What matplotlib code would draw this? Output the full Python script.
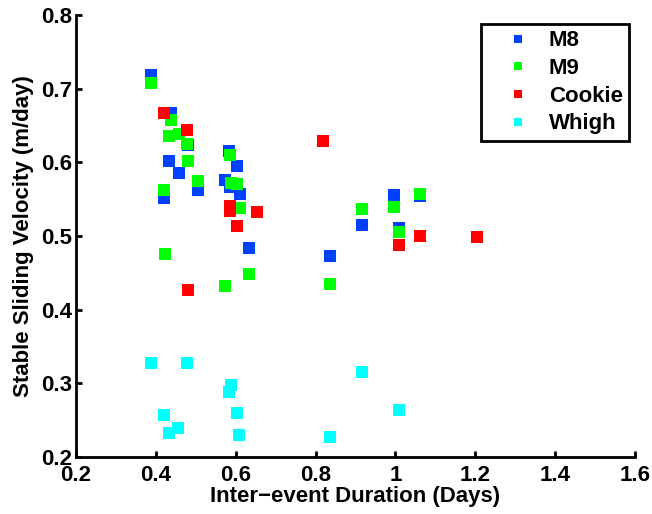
import matplotlib

matplotlib.use("Agg")
import matplotlib.pyplot as plt
from matplotlib.lines import Line2D

plt.rcParams["font.family"] = ["Liberation Sans", "DejaVu Sans"]
plt.rcParams["font.weight"] = "bold"

# inter-event duration (days) and stable sliding velocity (m/day), per station
m8_x = [0.388, 0.437, 0.48, 0.433, 0.457, 0.506, 0.42, 0.583, 0.603, 0.572,
        0.586, 0.61, 0.634, 0.837, 0.916, 0.996, 1.008, 1.062]
m8_y = [0.718, 0.667, 0.623, 0.602, 0.586, 0.562, 0.551, 0.615, 0.595, 0.576,
        0.566, 0.557, 0.484, 0.473, 0.515, 0.555, 0.511, 0.554]

m9_x = [0.388, 0.437, 0.433, 0.458, 0.478, 0.48, 0.506, 0.42, 0.423, 0.585,
        0.588, 0.603, 0.61, 0.634, 0.572, 0.837, 0.916, 0.996, 1.008, 1.062]
m9_y = [0.707, 0.658, 0.636, 0.638, 0.625, 0.602, 0.574, 0.562, 0.476, 0.61,
        0.572, 0.57, 0.538, 0.449, 0.432, 0.435, 0.536, 0.539, 0.505, 0.557]

cookie_x = [0.42, 0.477, 0.586, 0.586, 0.653, 0.603, 0.48, 0.818, 1.008,
            1.062, 1.203]
cookie_y = [0.667, 0.644, 0.541, 0.534, 0.533, 0.514, 0.427, 0.629, 0.488,
            0.50, 0.498]

whigh_x = [0.388, 0.477, 0.587, 0.583, 0.917, 0.421, 0.603, 1.008, 0.433,
           0.456, 0.609, 0.837]
whigh_y = [0.328, 0.328, 0.298, 0.288, 0.315, 0.257, 0.26, 0.264, 0.232,
           0.239, 0.23, 0.227]

series = [
    ("M8", m8_x, m8_y, "#0040ff"),
    ("M9", m9_x, m9_y, "#00ff00"),
    ("Cookie", cookie_x, cookie_y, "#ff0000"),
    ("Whigh", whigh_x, whigh_y, "#00ffff"),
]

fig = plt.figure(figsize=(6.52, 5.14), dpi=100)
ax = fig.add_axes([0.1166, 0.1109, 0.8574, 0.86])

handles = []
for name, xs, ys, color in series:
    ax.scatter(xs, ys, s=84, marker="s", color=color, linewidths=0, zorder=3)
    handles.append(Line2D([], [], linestyle="none", marker="s", markersize=6,
                          color=color, markeredgewidth=0, label=name))

ax.set_xlim(0.2, 1.6)
ax.set_ylim(0.2, 0.8)
ax.set_xticks([0.2, 0.4, 0.6, 0.8, 1.0, 1.2, 1.4, 1.6])
ax.set_xticklabels(["0.2", "0.4", "0.6", "0.8", "1", "1.2", "1.4", "1.6"])
ax.set_yticks([0.2, 0.3, 0.4, 0.5, 0.6, 0.7, 0.8])

for side in ("top", "right"):
    ax.spines[side].set_visible(False)
for side in ("left", "bottom"):
    ax.spines[side].set_linewidth(2)
ax.tick_params(direction="in", length=4, width=2, labelsize=16)
ax.tick_params(axis="x", pad=6)
ax.tick_params(axis="y", pad=3)
for lbl in ax.get_xticklabels() + ax.get_yticklabels():
    lbl.set_fontweight("bold")

ax.set_xlabel("Inter\u2212event Duration (Days)", fontsize=16,
              fontweight="bold", labelpad=0)
ax.set_ylabel("Stable Sliding Velocity (m/day)", fontsize=16,
              fontweight="bold", labelpad=5)

leg = ax.legend(handles=handles, loc="upper right",
                bbox_to_anchor=(0.99, 0.98), fancybox=False,
                edgecolor="black", framealpha=1, prop={"size": 16,
                                                       "weight": "bold"},
                handletextpad=0.05, labelspacing=0.3, borderpad=0.3,
                handlelength=2.7, borderaxespad=0)
leg.get_frame().set_linewidth(2)

fig.savefig("out.png", dpi=100)
